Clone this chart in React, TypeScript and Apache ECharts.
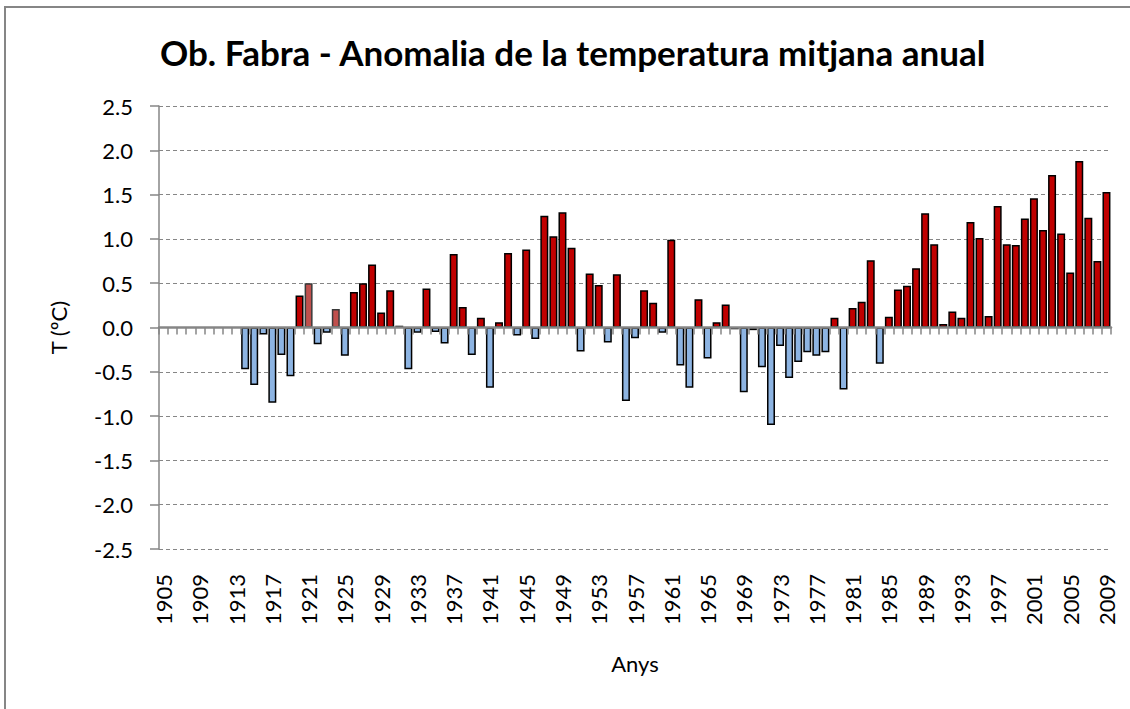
import React, { useEffect, useRef } from "react";
import * as echarts from "echarts";

const firstYear = 1905;
const lastYear = 2009;
const years: string[] = [];
for (let y = firstYear; y <= lastYear; y++) years.push(String(y));

// 1905-1913: no data
const noData = [null, null, null, null, null, null, null, null, null];
// 1914-1919
const v1914 = [-0.47, -0.65, -0.08, -0.85, -0.31, -0.55];
// 1920-1929
const v1920 = [0.36, 0.5, -0.19, -0.06, 0.21, -0.32, 0.4, 0.5, 0.71, 0.17];
// 1930-1939
const v1930 = [0.42, 0.02, -0.47, -0.06, 0.44, -0.05, -0.18, 0.83, 0.23, -0.31];
// 1940-1949
const v1940 = [0.11, -0.68, 0.06, 0.84, -0.09, 0.88, -0.13, 1.26, 1.03, 1.3];
// 1950-1959
const v1950 = [0.9, -0.27, 0.61, 0.48, -0.17, 0.6, -0.83, -0.12, 0.42, 0.28];
// 1960-1969
const v1960 = [-0.06, 0.99, -0.43, -0.68, 0.32, -0.35, 0.06, 0.26, -0.02, -0.73];
// 1970-1979
const v1970 = [-0.03, -0.45, -1.1, -0.21, -0.57, -0.39, -0.28, -0.32, -0.28, 0.11];
// 1980-1989
const v1980 = [-0.7, 0.22, 0.29, 0.76, -0.41, 0.12, 0.43, 0.47, 0.67, 1.29];
// 1990-1999
const v1990 = [0.94, 0.04, 0.18, 0.11, 1.19, 1.01, 0.13, 1.37, 0.94, 0.93];
// 2000-2009
const v2000 = [1.23, 1.46, 1.1, 1.72, 1.06, 0.62, 1.88, 1.24, 0.75, 1.53];

const anomalies: (number | null)[] = [
  ...noData, ...v1914, ...v1920, ...v1930, ...v1940, ...v1950,
  ...v1960, ...v1970, ...v1980, ...v1990, ...v2000,
];

const lightYears = ["1921", "1924"];
const yTicks = [-2.5, 2.5, 0.5];

const FONT = "Lato, 'Open Sans', sans-serif";

export default function App() {
  const ref = useRef<HTMLDivElement>(null);
  useEffect(() => {
    if (!ref.current) return;
    const chart = echarts.init(ref.current, undefined, { renderer: "svg" });
    const data = anomalies.map((v, i) => {
      if (v === null) return null;
      const light = lightYears.includes(years[i]);
      return {
        value: v,
        itemStyle: {
          color: light ? "#C0504D" : v >= 0 ? "#C00000" : "#8DB4E2",
          borderColor: light ? "#3a3a3a" : "#000000",
          borderWidth: 1.5,
        },
      };
    });
    chart.setOption({
      animation: false,
      backgroundColor: "#ffffff",
      textStyle: { fontFamily: FONT },
      title: {
        text: "Ob. Fabra - Anomalia de la temperatura mitjana anual",
        left: 155,
        top: 29,
        textStyle: { fontFamily: FONT, fontSize: 35, fontWeight: "bold", color: "#000" },
      },
      graphic: [
        {
          type: "rect",
          shape: { x: 5, y: 7, width: 1200, height: 800 },
          style: { fill: "none", stroke: "#868686", lineWidth: 2 },
          silent: true,
        },
      ],
      grid: { left: 159, right: 19, top: 106, bottom: 160, containLabel: false },
      xAxis: [
        {
          type: "category",
          data: years,
          position: "bottom",
          axisLine: { onZero: true, lineStyle: { color: "#868686", width: 2.5 } },
          axisTick: { show: true, interval: 0, length: 7, lineStyle: { color: "#868686", width: 1.5 } },
          axisLabel: { show: false },
          splitLine: { show: false },
          z: 5,
        },
        {
          type: "category",
          data: years,
          position: "bottom",
          axisLine: { show: false, onZero: false },
          axisTick: { show: false },
          axisLabel: {
            show: true,
            interval: 3,
            rotate: 90,
            margin: 25,
            fontSize: 22,
            color: "#000",
            fontFamily: FONT,
          },
          name: "Anys",
          nameLocation: "middle",
          nameGap: 103,
          nameTextStyle: { fontSize: 22, color: "#000", fontFamily: FONT },
        },
      ],
      yAxis: {
        type: "value",
        min: yTicks[0],
        max: yTicks[1],
        interval: yTicks[2],
        name: "T (ºC)",
        nameLocation: "middle",
        nameRotate: 90,
        nameGap: 90,
        nameTextStyle: { fontSize: 22, color: "#000", fontFamily: FONT },
        axisLine: { show: true, lineStyle: { color: "#868686", width: 1.5 } },
        axisTick: { show: true, length: 9, lineStyle: { color: "#868686", width: 1.5 } },
        axisLabel: {
          fontSize: 22,
          color: "#000",
          margin: 26,
          fontFamily: FONT,
          formatter: (v: number) => v.toFixed(1),
        },
        splitLine: { show: true, lineStyle: { color: "#868686", width: 1, type: [4, 3] } },
      },
      series: [
        {
          type: "bar",
          xAxisIndex: 0,
          data,
          barCategoryGap: "12%",
        },
      ],
    });
    return () => chart.dispose();
  }, []);
  return (
    <div
      ref={ref}
      style={{ position: "absolute", left: 0, top: 0, width: 1130, height: 709 }}
    />
  );
}
